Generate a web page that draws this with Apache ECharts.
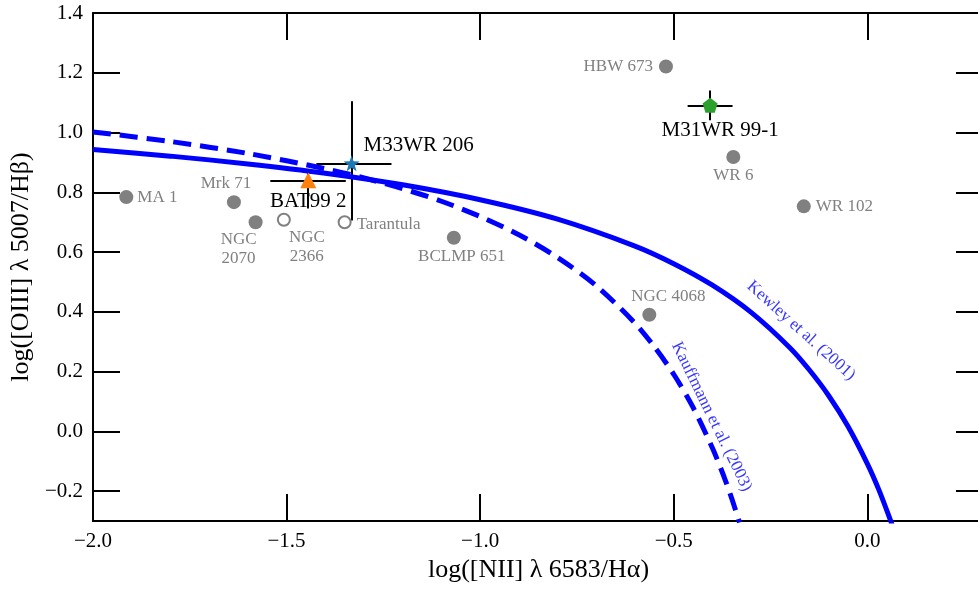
<!DOCTYPE html>
<html>
<head>
<meta charset="utf-8">
<title>BPT diagram</title>
<script src="https://cdn.jsdelivr.net/npm/echarts@6/dist/echarts.min.js"></script>
<style>
    html, body { margin: 0; padding: 0; background: #fff; }
    #main { width: 978px; height: 589px; }
</style>
</head>
<body>
<div id="main"></div>
<script type="text/javascript">
    // tick values
    var xTicks = [-2.0, -1.5, -1.0, -0.5, 0.0];
    var yTicks = [-0.2, 0.0, 0.2, 0.4, 0.6, 0.8, 1.0, 1.2, 1.4];

    // comparison objects (grey, filled)
    var grayNames = ['MA 1', 'Mrk 71', 'NGC\n2070', 'BCLMP 651', 'NGC 4068', 'HBW 673', 'WR 6', 'WR 102'];
    var grayX = [-1.914, -1.636, -1.580, -1.068, -0.563, -0.520, -0.346, -0.164];
    var grayY = [0.784, 0.767, 0.700, 0.648, 0.390, 1.221, 0.918, 0.753];

    // comparison objects (grey, open)
    var openNames = ['NGC\n2366', 'Tarantula'];
    var openX = [-1.507, -1.350];
    var openY = [0.708, 0.700];

    // the three nebulae with error bars
    var errNames = ['M33WR 206', 'BAT99 2', 'M31WR 99-1'];
    var errX = [-1.332, -1.444, -0.406];
    var errY = [0.897, 0.840, 1.091];
    var errXLo = [-1.423, -1.542, -0.464];
    var errXHi = [-1.229, -1.347, -0.348];
    var errYLo = [0.706, 0.746, 1.041];
    var errYHi = [1.105, 0.865, 1.141];

    // Kewley et al. (2001) curve
    var kewleyX = [-2.0, -1.8, -1.6, -1.4, -1.2, -1.0, -0.8, -0.6, -0.5, -0.4, -0.3, -0.2, -0.15, -0.1, -0.05, 0.0, 0.03, 0.06, 0.07];
    var kewleyY = [0.943, 0.921, 0.895, 0.864, 0.825, 0.775, 0.710, 0.620, 0.561, 0.489, 0.398, 0.280, 0.206, 0.120, 0.017, -0.108, -0.196, -0.298, -0.335];

    // Kauffmann et al. (2003) curve
    var kauffX = [-2.0, -1.8, -1.6, -1.4, -1.3, -1.2, -1.1, -1.0, -0.9, -0.8, -0.7, -0.6, -0.55, -0.5, -0.45, -0.4, -0.37, -0.35, -0.33];
    var kauffY = [1.002, 0.970, 0.930, 0.879, 0.848, 0.812, 0.770, 0.719, 0.658, 0.582, 0.487, 0.362, 0.283, 0.191, 0.080, -0.056, -0.152, -0.225, -0.305];

    // curve captions
    var curveLabels = ['Kewley et al. (2001)', 'Kauffmann et al. (2003)'];
    var curveLabelX = [-0.171, -0.402];
    var curveLabelY = [0.337, 0.049];
    var curveLabelRot = [-42, -64];

    var FONT = 'Liberation Serif';
    var GREY = '#808080';
    var X_MIN = -2.0, X_MAX = 0.286;   // right edge of the frame is cut off
    var Y_MIN = -0.3, Y_MAX = 1.4;

    // where each label sits relative to its marker
    var labelPlace = {
        'MA 1': { position: 'right', distance: 4 },
        'Mrk 71': { position: 'top', distance: 2, offset: [-8, 0] },
        'NGC\n2070': { position: 'bottom', distance: 1, offset: [-17, 0] },
        'BCLMP 651': { position: 'bottom', distance: 2, offset: [8, 0] },
        'NGC 4068': { position: 'top', distance: 2, offset: [19, 0] },
        'HBW 673': { position: 'left', distance: 6 },
        'WR 6': { position: 'bottom', distance: 2 },
        'WR 102': { position: 'right', distance: 5 },
        'NGC\n2366': { position: 'bottom', distance: 1, offset: [23, 0] },
        'Tarantula': { position: 'right', distance: 5, offset: [0, 2] },
        'M33WR 206': { position: 'right', distance: 4, offset: [0, -18] },
        'BAT99 2': { position: 'bottom', distance: 3 },
        'M31WR 99-1': { position: 'bottom', distance: 7, offset: [10, 0] }
    };

    function fmt(v) {
        return v.toFixed(1).replace('-', '\u2212');
    }

    function pts(names, xs, ys, extra) {
        return xs.map(function(x, i) {
            var p = labelPlace[names[i]] || {};
            return {
                name: names[i],
                value: [x, ys[i]],
                label: Object.assign({
                    show: true,
                    formatter: '{b}',
                    position: p.position,
                    distance: p.distance,
                    offset: p.offset || [0, 0]
                }, extra)
            };
        });
    }

    var greyLabel = { color: GREY, fontFamily: FONT, fontSize: 17, lineHeight: 19 };
    var blackLabel = { color: '#000', fontFamily: FONT, fontSize: 21 };

    var errLines = [];
    for (var i = 0; i < errX.length; i++) {
        errLines.push({ coords: [[errXLo[i], errY[i]], [errXHi[i], errY[i]]] });
        errLines.push({ coords: [[errX[i], errYLo[i]], [errX[i], errYHi[i]]] });
    }

    var starPath = 'path://M0,-10L2.35,-3.24L9.51,-3.09L3.8,1.24L5.88,8.09L0,4L-5.88,8.09L-3.8,1.24L-9.51,-3.09L-2.35,-3.24Z';
    var pentaPath = 'path://M0,-10L9.51,-3.09L5.88,8.09L-5.88,8.09L-9.51,-3.09Z';

    var tickStyle = { show: true, inside: true, length: 27, lineStyle: { color: '#000', width: 2 } };
    var axLine = { show: true, onZero: false, lineStyle: { color: '#000', width: 2 } };

    var chart = echarts.init(document.getElementById('main'));
    chart.setOption({
        backgroundColor: '#fff',
        animation: false,
        grid: { left: 93, right: 0, top: 13, bottom: 68, containLabel: false },
        xAxis: [{
            type: 'value', min: X_MIN, max: X_MAX, position: 'bottom',
            axisLine: axLine,
            axisTick: Object.assign({ customValues: xTicks }, tickStyle),
            axisLabel: {
                customValues: xTicks, formatter: fmt, margin: 10,
                color: '#000', fontFamily: FONT, fontSize: 21
            },
            splitLine: { show: false },
            name: 'log([NII] \u03bb 6583/H\u03b1)',
            nameLocation: 'middle', nameGap: 29,
            nameTextStyle: { color: '#000', fontFamily: FONT, fontSize: 26, padding: [0, 0, 0, 6] }
        }, {
            type: 'value', min: X_MIN, max: X_MAX, position: 'top',
            axisLine: axLine,
            axisTick: Object.assign({ customValues: xTicks }, tickStyle),
            axisLabel: { show: false },
            splitLine: { show: false }
        }],
        yAxis: [{
            type: 'value', min: Y_MIN, max: Y_MAX, position: 'left',
            axisLine: axLine,
            axisTick: Object.assign({ customValues: yTicks }, tickStyle),
            axisLabel: {
                customValues: yTicks, formatter: fmt, margin: 10,
                color: '#000', fontFamily: FONT, fontSize: 21
            },
            splitLine: { show: false },
            name: 'log([OIII] \u03bb 5007/H\u03b2)',
            nameLocation: 'middle', nameGap: 52,
            nameTextStyle: { color: '#000', fontFamily: FONT, fontSize: 26, padding: [0, 0, 0, 0], verticalAlign: 'middle' }
        }, {
            type: 'value', min: Y_MIN, max: Y_MAX, position: 'right',
            axisLine: { show: false, onZero: false },
            axisTick: Object.assign({}, tickStyle, { customValues: yTicks, length: 22 }),
            axisLabel: { show: false },
            splitLine: { show: false }
        }],
        series: [{
            type: 'lines',
            coordinateSystem: 'cartesian2d',
            z: 1,
            lineStyle: { color: '#000', width: 2, opacity: 1 },
            data: errLines
        }, {
            type: 'line',
            z: 2,
            showSymbol: false,
            smooth: 0.3,
            lineStyle: { color: '#0000ff', width: 5 },
            data: kewleyX.map(function(x, i) { return [x, kewleyY[i]]; })
        }, {
            type: 'line',
            z: 2,
            showSymbol: false,
            smooth: 0.3,
            lineStyle: { color: '#0000ff', width: 5, type: [18, 9] },
            data: kauffX.map(function(x, i) { return [x, kauffY[i]]; })
        }, {
            type: 'scatter',
            z: 3,
            symbol: 'circle',
            symbolSize: 14,
            itemStyle: { color: GREY, opacity: 1 },
            data: pts(grayNames, grayX, grayY, greyLabel)
        }, {
            type: 'scatter',
            z: 3,
            symbol: 'circle',
            symbolSize: 12,
            itemStyle: { color: '#fff', borderColor: GREY, borderWidth: 2, opacity: 1 },
            data: pts(openNames, openX, openY, greyLabel)
        }, {
            type: 'scatter',
            z: 4,
            symbol: starPath,
            symbolSize: 16,
            itemStyle: { color: '#1f77b4', opacity: 1 },
            data: pts([errNames[0]], [errX[0]], [errY[0]], blackLabel)
        }, {
            type: 'scatter',
            z: 4,
            symbol: 'triangle',
            symbolSize: 16,
            itemStyle: { color: '#ff7f0e', opacity: 1 },
            data: pts([errNames[1]], [errX[1]], [errY[1]], blackLabel)
        }, {
            type: 'scatter',
            z: 4,
            symbol: pentaPath,
            symbolSize: 15,
            itemStyle: { color: '#2ca02c', opacity: 1 },
            data: pts([errNames[2]], [errX[2]], [errY[2]], blackLabel)
        }, {
            type: 'scatter',
            z: 5,
            symbolSize: 0,
            silent: true,
            data: curveLabelX.map(function(x, i) {
                return {
                    value: [x, curveLabelY[i]],
                    label: {
                        show: true,
                        position: 'inside',
                        formatter: curveLabels[i],
                        rotate: curveLabelRot[i],
                        color: '#0000ff',
                        fontFamily: FONT,
                        fontSize: 17
                    }
                };
            })
        }]
    });
</script>
</body>
</html>
